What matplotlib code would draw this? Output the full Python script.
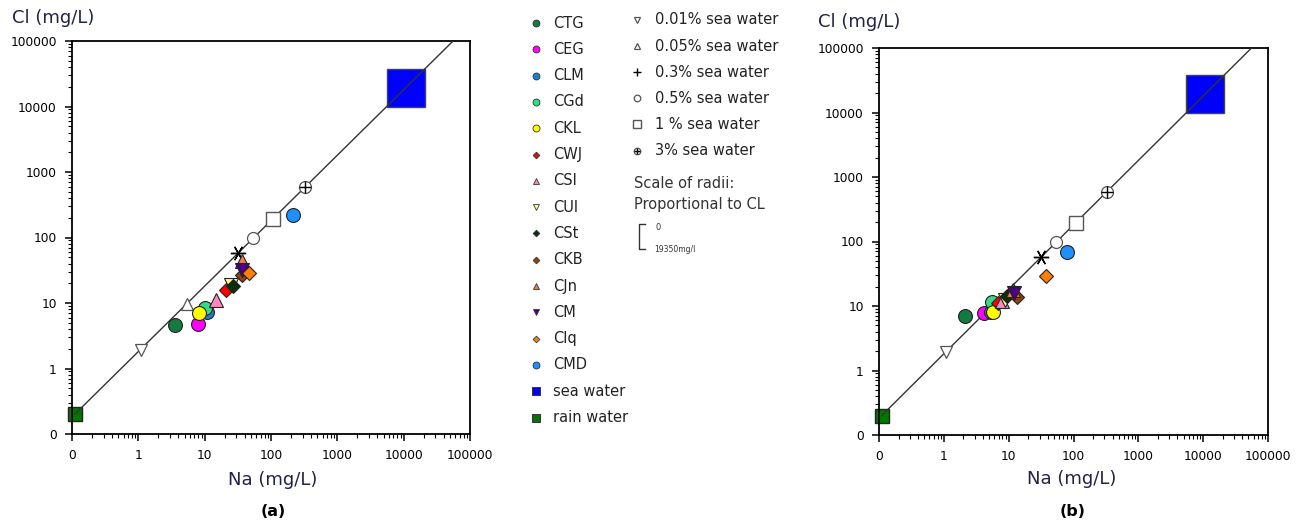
import matplotlib
matplotlib.use('Agg')
import matplotlib.pyplot as plt
from matplotlib.ticker import LogLocator, NullFormatter

# sample sites (order as in legend)
sites = ['CTG', 'CEG', 'CLM', 'CGd', 'CKL', 'CWJ', 'CSI', 'CUI', 'CSt', 'CKB',
         'CJn', 'CM', 'CIq', 'CMD']
site_colors = ['#137a40', '#ff00ff', '#1e7fc8', '#33dd88', '#ffff00', '#ff0000',
               '#ff88c0', '#ffff88', '#0a300a', '#8b4513', '#e8804a', '#4b0082',
               '#ff8000', '#1e90ff']
site_markers = ['o', 'o', 'o', 'o', 'o', 'D', '^', 'v', 'D', 'D', '^', 'v', 'D', 'o']

# panel (a)
na_a = [3.6, 8.0, 10.8, 10.0, 8.3, 21, 14.8, 25, 27, 37, 37, 37, 47, 218]
cl_a = [4.6, 4.7, 7.2, 8.5, 7.0, 16, 11.2, 18.8, 18, 27, 44, 32, 29, 219]
# panel (b)
na_b = [2.1, 4.2, 5.4, 5.5, 5.8, 6.9, 8.0, 8.8, 9.3, 13.4, 11.8, 12.1, 37.5, 80]
cl_b = [7.0, 7.8, 8.0, 11.5, 8.2, 11.2, 12.0, 12.6, 14.3, 13.6, 17.7, 16.1, 29.5, 68]

# sea water / rain water end members
sea_na, sea_cl = 10770, 19350
rain_na, rain_cl = 0.11, 0.2

# sea water dilutions
ref_labels = ['0.01% sea water', '0.05% sea water', '0.3% sea water',
              '0.5% sea water', '1 % sea water', '3% sea water']
ref_na = [1.08, 5.4, 32, 54, 108, 323]
ref_cl = [1.94, 9.7, 58, 97, 194, 581]

# mixing line rain water -> sea water
mix_na = [0.11, 55600]
mix_cl = [0.2, 100000]

ticks = [0.1, 1, 10, 100, 1000, 10000, 100000]
tick_labels = ['0', '1', '10', '100', '1000', '10000', '100000']

W, H = 1306, 527
ms_site = {'o': 10, 'D': 6.8, '^': 9.5, 'v': 9.5}
label_col = '#222244'


def draw_refs(ax, x, y, i, small=False):
    k = 0.55 if small else 1.0
    ec = '#555555'
    if i == 0:
        ax.plot(x, y, 'v', ms=8 * k, mfc='white', mec=ec, mew=0.9, zorder=4)
    elif i == 1:
        ax.plot(x, y, '^', ms=8 * k, mfc='white', mec=ec, mew=0.9, zorder=4)
    elif i == 2:
        if small:
            ax.plot(x, y, '+', ms=6, mec='black', mew=1.0, zorder=4)
        else:
            ax.plot(x, y, marker=(6, 2, 90), ms=11, mec='black', mew=1.0, ls='none', zorder=4)
    elif i == 3:
        ax.plot(x, y, 'o', ms=8.6 * k, mfc='white', mec=ec, mew=0.9, zorder=4)
    elif i == 4:
        ax.plot(x, y, 's', ms=9.6 * k, mfc='white', mec=ec, mew=1.0, zorder=4)
    else:
        ax.plot(x, y, 'o', ms=8.6 * k, mfc='white', mec=ec, mew=0.9, zorder=4)
        ax.plot(x, y, '+', ms=9 * k, mec='black', mew=1.0, zorder=4)


def panel(rect, na, cl):
    ax = fig.add_axes(rect)
    ax.set_xscale('log')
    ax.set_yscale('log')
    ax.set_xlim(0.1, 1e5)
    ax.set_ylim(0.1, 1e5)
    ax.set_xticks(ticks)
    ax.set_xticklabels(tick_labels)
    ax.set_yticks(ticks)
    ax.set_yticklabels(tick_labels)
    for a in (ax.xaxis, ax.yaxis):
        a.set_minor_locator(LogLocator(base=10, subs=range(2, 10), numticks=20))
        a.set_minor_formatter(NullFormatter())
    ax.tick_params(which='major', length=5, width=1.1, direction='out', labelsize=8.8, pad=6)
    ax.tick_params(which='minor', length=3, width=0.8, direction='out')
    for sp in ax.spines.values():
        sp.set_linewidth(1.3)

    ax.plot(sea_na, sea_cl, 's', ms=28, mfc='#0000ff', mec='#444444', mew=1.0, zorder=2)
    ax.plot(rain_na, rain_cl, 's', ms=9.4, mfc='#007800', mec='#222222', mew=1.0,
            zorder=2, clip_on=False)
    ax.plot(mix_na, mix_cl, color='#333333', lw=1.0, zorder=3)
    for i in range(len(ref_na)):
        draw_refs(ax, ref_na[i], ref_cl[i], i)
    for i in range(len(sites)):
        m = site_markers[i]
        ax.plot(na[i], cl[i], m, ms=ms_site[m], mfc=site_colors[i], mec='#222222',
                mew=0.8, zorder=5)
    return ax


fig = plt.figure(figsize=(W / 100, H / 100), dpi=100)

ax_a = panel([72 / W, 1 - 434 / H, 398 / W, 393 / H], na_a, cl_a)
ax_b = panel([879 / W, 1 - 435 / H, 389 / W, 387 / H], na_b, cl_b)


def ftext(x, y, s, **kw):
    fig.text(x / W, 1 - y / H, s, **kw)


ftext(12, 18, 'Cl (mg/L)', fontsize=13, color=label_col, va='center', ha='left')
ftext(818, 22, 'Cl (mg/L)', fontsize=13, color=label_col, va='center', ha='left')
ftext(273, 480, 'Na (mg/L)', fontsize=13, color=label_col, va='center', ha='center')
ftext(1072, 479, 'Na (mg/L)', fontsize=13, color=label_col, va='center', ha='center')
ftext(273, 512, '(a)', fontsize=11.5, fontweight='bold', va='center', ha='center')
ftext(1073, 511, '(b)', fontsize=11.5, fontweight='bold', va='center', ha='center')

# legend drawn in pixel coordinates
lg = fig.add_axes([0, 0, 1, 1])
lg.set_xlim(0, W)
lg.set_ylim(H, 0)
lg.axis('off')

leg_y = 23
for i in range(len(sites)):
    m = site_markers[i]
    lg.plot(536, leg_y, m, ms=ms_site[m] * 0.5, mfc=site_colors[i], mec='#333333', mew=0.6)
    lg.text(553, leg_y, sites[i], fontsize=10.5, va='center', color='#222222')
    leg_y += 26.3
lg.plot(536, leg_y, 's', ms=5.5, mfc='#0000ff', mec='#333333', mew=0.7)
lg.text(553, leg_y, 'sea water', fontsize=10.5, va='center', color='#222222')
leg_y += 26.3
lg.plot(536, leg_y, 's', ms=5.5, mfc='#007800', mec='#333333', mew=0.7)
lg.text(553, leg_y, 'rain water', fontsize=10.5, va='center', color='#222222')

leg_y = 20
for i in range(len(ref_labels)):
    draw_refs(lg, 637, leg_y, i, small=True)
    lg.text(655, leg_y, ref_labels[i], fontsize=10.5, va='center', color='#222222')
    leg_y += 26.1

lg.text(634, 183, 'Scale of radii:', fontsize=10.5, va='center', color='#333333')
lg.text(634, 205, 'Proportional to CL', fontsize=10.5, va='center', color='#333333')
lg.plot([645, 639, 639, 645], [224, 224, 249, 249], color='#333333', lw=1.0)
lg.text(656, 227, '0', fontsize=6, va='center', color='#333333')
lg.text(654, 249, '19350mg/l', fontsize=5.5, va='center', color='#333333')

fig.savefig('out.png', dpi=100)
